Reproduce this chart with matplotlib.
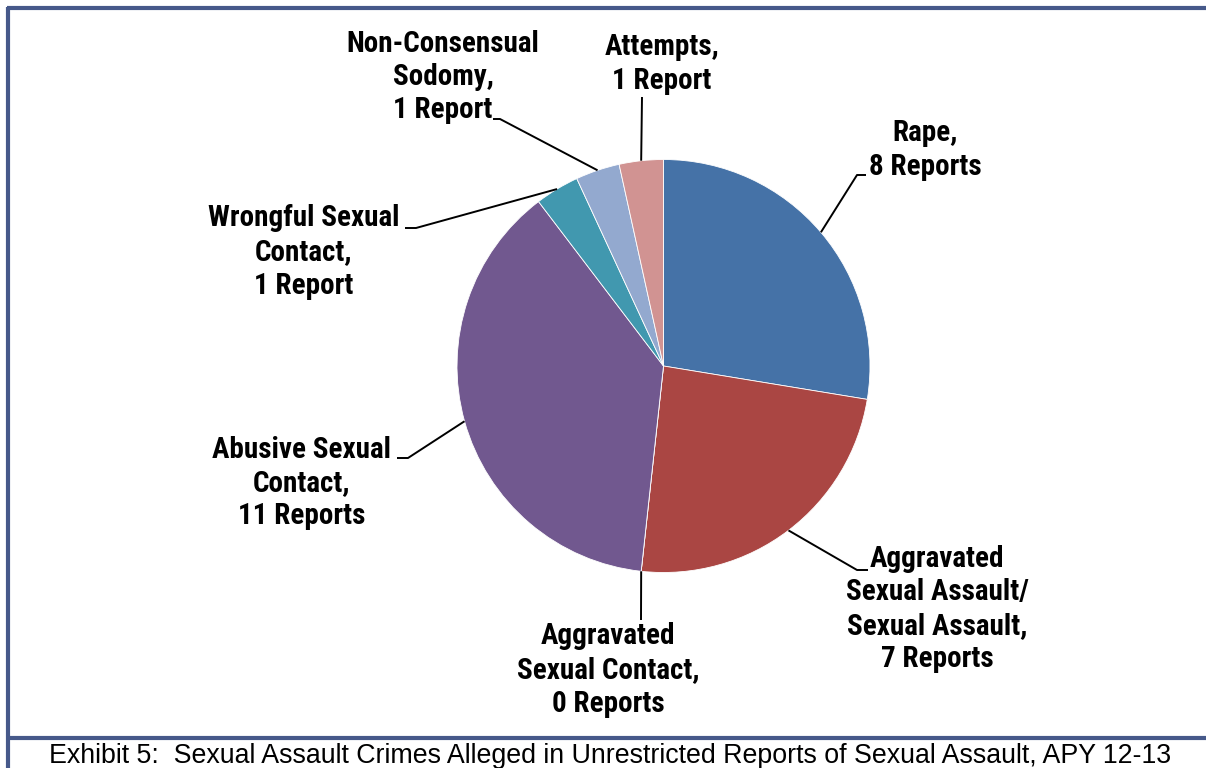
import matplotlib
matplotlib.use("Agg")
import matplotlib.pyplot as plt
from matplotlib import font_manager
import numpy as np

categories = ["Rape", "Aggravated Sexual Assault/Sexual Assault", "Aggravated Sexual Contact",
              "Abusive Sexual Contact", "Wrongful Sexual Contact", "Non-Consensual Sodomy", "Attempts"]
values = [8, 7, 0, 11, 1, 1, 1]
label_texts = ["Rape,\n8 Reports",
               "Aggravated\nSexual Assault/\nSexual Assault,\n7 Reports",
               "Aggravated\nSexual Contact,\n0 Reports",
               "Abusive Sexual\nContact,\n11 Reports",
               "Wrongful Sexual\nContact,\n1 Report",
               "Non-Consensual\nSodomy,\n1 Report",
               "Attempts,\n1 Report"]
colors = ["#4572A7", "#AA4643", "#89A54E", "#71588F", "#4198AF", "#93A9CF", "#D19392"]
caption = "Exhibit 5:  Sexual Assault Crimes Alleged in Unrestricted Reports of Sexual Assault, APY 12-13"

# pick an installed narrow bold family (static bold face)
bold_fams = {f.name for f in font_manager.fontManager.ttflist if f.weight in (700, "bold")}
narrow = "Liberation Sans"
for fam in ["Liberation Sans Narrow", "Arial Narrow", "Roboto Condensed", "PT Sans Narrow",
            "Archivo Narrow", "Open Sans Condensed", "Asap Condensed", "Barlow Semi Condensed"]:
    if fam in bold_fams:
        narrow = fam
        break

W, H = 1206, 768
fig = plt.figure(figsize=(W / 100, H / 100), dpi=100)
ax = fig.add_axes([0, 0, 1, 1])

def P(x, y):
    return (x, H - y)

cx, cy, R = 663.5, 366, 206.5
wedges, _ = ax.pie(values, colors=colors, startangle=90, counterclock=False,
                   center=P(cx, cy), radius=R,
                   wedgeprops=dict(edgecolor="white", linewidth=0.6))
ax.set_xlim(0, W)
ax.set_ylim(0, H)
ax.axis("off")

# label layout: (elbow point, end of horizontal tick, text centre)
layout = [
    ((857, 175), (866, 175), (925, 150)),
    ((857, 570), (868, 570), (937, 609)),
    ((641, 620), (641, 620), (608, 670)),
    ((408, 458), (397, 458), (302, 483)),
    ((416, 228), (405, 228), (304, 252)),
    ((500, 119), (493, 119), (443, 77)),
    ((642, 97), (642, 97), (662, 64)),
]

for w, txt, (elb, end, tpos) in zip(wedges, label_texts, layout):
    th = np.deg2rad((w.theta1 + w.theta2) / 2)
    sx = w.center[0] + w.r * np.cos(th)
    sy = w.center[1] + w.r * np.sin(th)
    ex, ey = P(*elb)
    tx, ty = P(*end)
    ax.plot([sx, ex, tx], [sy, ey, ty], color="black", lw=1.4, solid_capstyle="butt", zorder=3)
    ax.text(*P(*tpos), txt, ha="center", va="center", fontsize=21, fontweight="bold",
            family=narrow, linespacing=1.25, color="black")

# frame lines
frame_color = "#46598A"
ax.plot([8, 8], [0, H - 7], color=frame_color, lw=3, solid_capstyle="butt")
ax.plot([6.5, W], [H - 8, H - 8], color=frame_color, lw=3, solid_capstyle="butt")
ax.plot([6.5, W], [H - 738, H - 738], color=frame_color, lw=3, solid_capstyle="butt")

ax.text(*P(610, 756), caption, ha="center", va="center", fontsize=19.25,
        family="Liberation Sans", color="black")

fig.savefig("out.png", dpi=100)
